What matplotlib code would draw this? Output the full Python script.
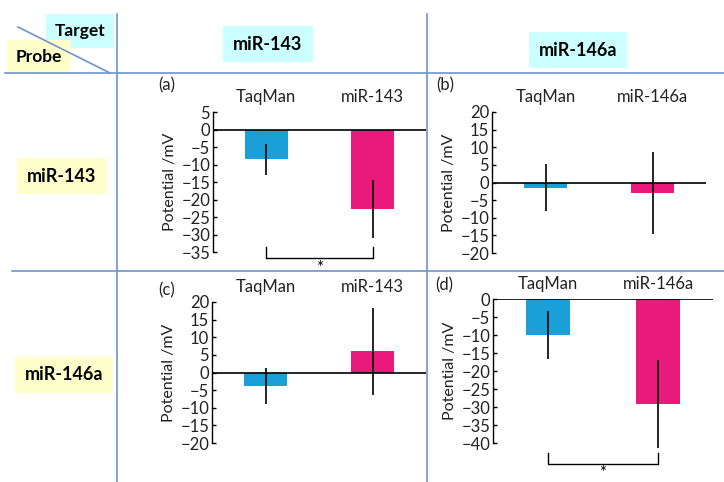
import matplotlib
matplotlib.use('Agg')
import matplotlib.pyplot as plt
from matplotlib.lines import Line2D

plt.rcParams['font.family'] = ['Lato', 'DejaVu Sans']

# panel data (mean potential, error)
labels_a = ['TaqMan', 'miR-143']
means_a = [-8.5, -22.7]
errs_a = [4.5, 8.3]

labels_b = ['TaqMan', 'miR-146a']
means_b = [-1.5, -3.0]
errs_b = [6.7, 11.6]

labels_c = ['TaqMan', 'miR-143']
means_c = [-3.7, 6.0]
errs_c = [5.1, 12.3]

labels_d = ['TaqMan', 'miR-146a']
means_d = [-10.0, -29.1]
errs_d = [6.7, 12.2]

target_labels = ['miR-143', 'miR-146a']
probe_labels = ['miR-143', 'miR-146a']

BLUE = '#1a9fd8'
PINK = '#ea1a7c'
GRID = '#6f94cc'
CYAN_BOX = '#ccffff'
YELLOW_BOX = '#ffffcc'

W, H = 724, 482
fig = plt.figure(figsize=(W / 100, H / 100), dpi=100)


def fx(x):
    return x / W


def fy(y):
    return 1 - y / H


def add_ax(left, right, top, bottom):
    return fig.add_axes([fx(left), fy(bottom), fx(right - left), (bottom - top) / H])


def draw_panel(ax, labels, means, errs, ylim, tag, tag_xy):
    x = range(len(labels))
    ax.bar(x, means, width=0.4, color=[BLUE, PINK], edgecolor='none', zorder=2)
    eb = ax.errorbar(x, means, yerr=errs, fmt='none', ecolor='black', elinewidth=1.2,
                     capsize=0, zorder=3)
    for coll in eb.lines[2]:
        coll.set_clip_on(False)
    ax.axhline(0, color='black', lw=1.2, zorder=4)
    ax.set_xlim(-0.5, 1.5)
    ax.set_ylim(*ylim)
    ax.set_yticks(range(ylim[0], ylim[1] + 1, 5))
    ax.set_xticks(list(x))
    ax.set_xticklabels(labels)
    ax.tick_params(axis='x', top=False, bottom=False, labeltop=True, labelbottom=False,
                   length=0, pad=5, labelsize=12, labelcolor='#222222')
    ax.tick_params(axis='y', direction='in', length=3, width=1, pad=2,
                   labelsize=12, labelcolor='#222222')
    for s in ['top', 'right', 'bottom']:
        ax.spines[s].set_visible(False)
    ax.spines['left'].set_linewidth(1.0)
    ax.set_ylabel('Potential /mV', fontsize=11.5, color='#222222', labelpad=3)
    ax.patch.set_alpha(0)
    fig.text(fx(tag_xy[0]), fy(tag_xy[1]), tag, fontsize=12, color='#222222',
             ha='center', va='center')


def bracket(ax, x0, x1, y_top, y_low, y_star):
    ax.plot([x0, x0, x1, x1], [y_top, y_low, y_low, y_top], color='black', lw=1.0,
            clip_on=False)
    ax.text((x0 + x1) / 2, y_star, '*', ha='center', va='center', fontsize=12,
            clip_on=False)


ax_a = add_ax(213, 426, 112, 252)
draw_panel(ax_a, labels_a, means_a, errs_a, (-35, 5), '(a)', (167, 85))
bracket(ax_a, 0, 1, -33.5, -36.6, -39.5)

ax_b = add_ax(492, 706, 112, 253)
draw_panel(ax_b, labels_b, means_b, errs_b, (-20, 20), '(b)', (445, 85))

ax_c = add_ax(212, 426, 302, 443)
draw_panel(ax_c, labels_c, means_c, errs_c, (-20, 20), '(c)', (167, 290))

ax_d = add_ax(493, 713, 299, 443)
draw_panel(ax_d, labels_d, means_d, errs_d, (-40, 0), '(d)', (444, 285))
bracket(ax_d, 0, 1, -42.8, -45.8, -48.4)

# table grid lines
for xs, ys in [((5, 724), (73, 73)), ((12, 724), (271, 271)),
               ((117, 117), (14, 482)), ((427, 427), (14, 482)),
               ((18, 110), (27, 73))]:
    fig.add_artist(Line2D([fx(xs[0]), fx(xs[1])], [fy(ys[0]), fy(ys[1])],
                          color=GRID, lw=1.2, zorder=0))

# header cells
fig.text(fx(80), fy(31), 'Target', fontsize=12.5, fontweight='bold', ha='center',
         va='center', bbox=dict(boxstyle='square,pad=0.5', fc=CYAN_BOX, ec='none'),
         zorder=-1)
fig.text(fx(39), fy(57), 'Probe', fontsize=12.5, fontweight='bold', ha='center',
         va='center', bbox=dict(boxstyle='square,pad=0.5', fc=YELLOW_BOX, ec='none'),
         zorder=-1)

for label, (x, y) in zip(target_labels, [(268, 44), (578, 50)]):
    fig.text(fx(x), fy(y), label, fontsize=13, fontweight='bold', ha='center',
             va='center', bbox=dict(boxstyle='square,pad=0.55', fc=CYAN_BOX, ec='none'))

for label, (x, y) in zip(probe_labels, [(62, 176), (64, 375)]):
    fig.text(fx(x), fy(y), label, fontsize=13, fontweight='bold', ha='center',
             va='center', bbox=dict(boxstyle='square,pad=0.55', fc=YELLOW_BOX, ec='none'))

fig.savefig('out.png', dpi=100)
